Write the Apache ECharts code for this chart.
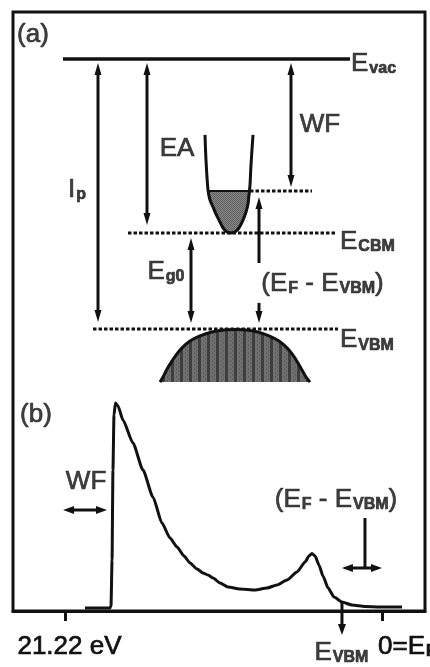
<!DOCTYPE html>
<html>
<head>
<meta charset="utf-8">
<script src="https://cdn.jsdelivr.net/npm/echarts@6/dist/echarts.min.js"></script>
<style>
  html, body { margin: 0; padding: 0; background: #fff; }
  #chart { width: 430px; height: 667px; }
</style>
</head>
<body>
<div id="chart"></div>
<script>
// ---------- (a) band diagram, energies in eV relative to the vacuum level ----------
const levelNames  = ['vac', 'F', 'CBM', 'VBM'];
const levelEnergy = [0, -4.4, -5.8, -9.0];
const levelFrom   = [50, 237, 115, 80];      // horizontal extent (arbitrary position units)
const levelTo     = [337, 299, 324, 325];

// conduction band dispersion
const cbPos = [192, 193, 195, 197, 200, 203, 206, 210, 214, 218, 222, 226, 230, 233, 235, 236, 237, 238, 240];
const cbE   = [-2.53, -3.37, -4.37, -4.70, -4.93, -5.17, -5.37, -5.63, -5.77, -5.80, -5.77, -5.63, -5.37, -5.10, -4.83, -4.53, -4.20, -3.53, -2.53];

// valence band (filled dome)
const vbPos = [147, 150, 153, 157, 163, 169, 177, 187, 199, 211, 222, 233, 245, 256, 266, 274, 280, 285, 289, 293, 297];
const vbE   = [-10.77, -10.60, -10.40, -10.17, -9.87, -9.63, -9.40, -9.23, -9.10, -9.03, -9.02, -9.03, -9.10, -9.23, -9.40, -9.63, -9.87, -10.13, -10.37, -10.60, -10.77];

// energy arrows: position, start energy, end energy
const arrowPosA  = [85, 134, 278, 178, 246, 246];
const arrowFromA = [-0.13, -0.13, -0.13, -5.97, -6.80, -8.13];
const arrowToA   = [-8.77, -5.53, -4.27, -8.80, -4.60, -8.80];
const arrowBothA = [true, true, true, true, false, false];

// ---------- (b) photoemission spectrum: binding energy (eV) vs intensity (arb. units) ----------
const spectrumBE  = [19.88, 18.21, 18.14, 18.07, 18.01, 17.94, 17.84, 17.67, 17.34, 16.67, 16.00, 15.33, 14.73,
                     14.19, 13.72, 13.25, 12.85, 12.38, 11.98, 11.65, 11.31, 10.84, 10.31, 9.51, 8.50, 7.70, 7.03,
                     6.36, 5.69, 5.15, 4.89, 4.69, 4.48, 4.22, 3.95, 3.61, 3.21, 2.68, 2.01, 1.14, 0.13, -1.34];
const spectrumInt = [1.5, 1.5, 2.5, 25.5, 70.5, 98, 104, 102.5, 95.5, 84, 70.5, 57, 44,
                     36.5, 32, 27.5, 24, 21, 19, 18, 16.5, 14, 12, 11, 10.5, 11.5, 13,
                     15.5, 19.5, 24.5, 27.5, 28.8, 27.5, 23, 17.5, 11.5, 7, 4.5, 3, 2.2, 2, 2];

const photonEnergy = 21.22;
const cutoffBE = 18.41;
const vbmBE = 2.68;
const fermiBE = 0;
const tickValues = [photonEnergy, fermiBE];

// arrows in (b): [BE, intensity] of start and end
const arrowFromB = [[21.35, 50.5], [vbmBE, 21.5], [1.14, 46.5], [vbmBE, 4]];
const arrowToB   = [[cutoffBE, 50.5], [fermiBE, 21.5], [1.14, 21.5], [vbmBE, -12]];
const arrowHeadsB = ['both', 'both', 'none', 'end'];

// ---------- styling ----------
const INK = '#111';
const FONT = 'Liberation Sans, Arial, sans-serif';
const rich = {
  m: { fontFamily: FONT, fontSize: 26, lineHeight: 26, color: INK },
  s: { fontFamily: FONT, fontSize: 16, fontWeight: 'bold', lineHeight: 16, padding: [10, 0, 0, 1], color: INK }
};
const sub = (main, s) => '{m|' + main + '}{s|' + s + '}';

function makePattern(w, h, paint) {
  const c = document.createElement('canvas');
  c.width = w; c.height = h;
  paint(c.getContext('2d'));
  return { image: c, repeat: 'repeat' };
}
// vertical striping for the valence band
const vbFill = makePattern(9, 4, ctx => {
  ctx.fillStyle = '#707070'; ctx.fillRect(0, 0, 9, 4);
  ctx.fillStyle = '#3e3e3e'; ctx.fillRect(0, 0, 3, 4);
  ctx.fillStyle = '#5a5a5a'; ctx.fillRect(5, 0, 1, 2); ctx.fillRect(7, 2, 1, 2);
});
// stippled grey for occupied conduction band states
const cbFill = makePattern(2, 2, ctx => {
  ctx.fillStyle = '#8a8a8a'; ctx.fillRect(0, 0, 2, 2);
  ctx.fillStyle = '#5e5e5e'; ctx.fillRect(0, 0, 1, 1); ctx.fillRect(1, 1, 1, 1);
});

// part of the conduction band lying below the Fermi level
function filledStates(xs, es, level) {
  const pts = [];
  for (let i = 0; i < xs.length; i++) {
    if (es[i] <= level) pts.push([xs[i], es[i]]);
    if (i < xs.length - 1 && (es[i] - level) * (es[i + 1] - level) < 0) {
      const t = (level - es[i]) / (es[i + 1] - es[i]);
      pts.push([xs[i] + t * (xs[i + 1] - xs[i]), level]);
    }
  }
  return pts;
}
const cbOccupied = filledStates(cbPos, cbE, levelEnergy[1]);

function arrowShape(api, a, b, heads, headW, headL) {
  const p1 = api.coord(a), p2 = api.coord(b);
  const dx = p2[0] - p1[0], dy = p2[1] - p1[1];
  const len = Math.hypot(dx, dy) || 1;
  const ux = dx / len, uy = dy / len, nx = -uy, ny = ux;
  const startHead = heads === 'both';
  const endHead = heads === 'both' || heads === 'end';
  const s = startHead ? [p1[0] + ux * headL * 0.7, p1[1] + uy * headL * 0.7] : p1;
  const e = endHead ? [p2[0] - ux * headL * 0.7, p2[1] - uy * headL * 0.7] : p2;
  const children = [{
    type: 'line', shape: { x1: s[0], y1: s[1], x2: e[0], y2: e[1] },
    style: { stroke: INK, lineWidth: 3 }
  }];
  const head = (tip, sx, sy) => ({
    type: 'polygon',
    shape: { points: [tip,
      [tip[0] + sx * headL + nx * headW / 2, tip[1] + sy * headL + ny * headW / 2],
      [tip[0] + sx * headL - nx * headW / 2, tip[1] + sy * headL - ny * headW / 2]] },
    style: { fill: INK }
  });
  if (startHead) children.push(head(p1, ux, uy));
  if (endHead) children.push(head(p2, -ux, -uy));
  return { type: 'group', children };
}

function labelItem(at, text, pos) {
  return {
    value: at,
    label: { show: true, position: pos || 'inside', distance: 0, formatter: text, rich,
             textBorderColor: INK, textBorderWidth: 0.7 }
  };
}

const labelsA = [
  labelItem([20, 0.80], '{m|(a)}'),
  labelItem([307, -2.20], '{m|WF}'),
  labelItem([164, -2.98], '{m|EA}'),
  labelItem([64, -4.35], sub('I', 'p')),
  labelItem([153, -7.08], sub('E', 'g0')),
  labelItem([309.5, -7.5], '{m|(E}{s|F}{m| - E}{s|VBM}{m|)}'),
  labelItem([338, levelEnergy[0] - 0.15], sub('E', levelNames[0]), 'right'),
  labelItem([327, levelEnergy[2] - 0.28], sub('E', levelNames[2]), 'right'),
  labelItem([327, levelEnergy[3] - 0.37], sub('E', levelNames[3]), 'right')
];
const labelsB = [
  labelItem([23.16, 98.25], '{m|(b)}'),
  labelItem([19.81, 64.5], '{m|WF}'),
  labelItem([3.08, 55.5], '{m|(E}{s|F}{m| - E}{s|VBM}{m|)}'),
  labelItem([vbmBE + 0.04, -20.75], sub('E', 'VBM'))
];

const levelSeries = levelEnergy.map((en, i) => ({
  type: 'line', xAxisIndex: 0, yAxisIndex: 0, z: 3, silent: true, symbol: 'none',
  data: [[levelFrom[i], en], [levelTo[i], en]],
  lineStyle: { color: INK, width: i === 0 ? 3.5 : 3, type: i === 0 ? 'solid' : [3.5, 2] }
}));

const chart = echarts.init(document.getElementById('chart'), null, { renderer: 'canvas' });
chart.setOption({
  animation: false,
  backgroundColor: '#fff',
  grid: [
    { left: 13, top: 12, right: 5, bottom: 56, containLabel: false, outerBoundsMode: 'none',
      show: true, borderColor: INK, borderWidth: 3, backgroundColor: 'transparent' },
    { left: 13, top: 391, right: 5, bottom: 56, containLabel: false, outerBoundsMode: 'none', show: false }
  ],
  xAxis: [
    { gridIndex: 0, type: 'value', min: 0, max: 412, show: false },
    { gridIndex: 1, type: 'value', inverse: true, min: -2.878, max: 24.70, position: 'bottom',
      axisLine: { show: true, onZero: false, lineStyle: { color: INK, width: 3 } },
      splitLine: { show: false },
      axisTick: { show: true, customValues: tickValues, inside: false, length: 10, lineStyle: { color: INK, width: 3 } },
      axisLabel: {
        show: true, customValues: tickValues, margin: 23, hideOverlap: false,
        formatter: v => Math.abs(v) < 1e-9 ? '{p0|}' + sub('0=E', 'F') : '{p1|}{m|' + photonEnergy + ' eV}',
        rich: Object.assign({ p0: { width: 50 }, p1: { width: 9 } }, rich),
        textBorderColor: INK, textBorderWidth: 0.7
      } }
  ],
  yAxis: [
    { gridIndex: 0, type: 'value', min: -18.4, max: 1.5667, show: false },
    { gridIndex: 1, type: 'value', min: 0, max: 110, show: false }
  ],
  series: [
    // valence band fill + outline
    {
      type: 'custom', xAxisIndex: 0, yAxisIndex: 0, z: 1, silent: true,
      data: [[vbPos[0], vbE[0]]],
      renderItem: (params, api) => ({
        type: 'polygon',
        shape: { points: vbPos.map((p, i) => api.coord([p, vbE[i]])) },
        style: { fill: vbFill }
      })
    },
    {
      type: 'line', xAxisIndex: 0, yAxisIndex: 0, z: 2, silent: true, symbol: 'none', smooth: 0.3,
      data: vbPos.map((p, i) => [p, vbE[i]]),
      lineStyle: { color: INK, width: 3 }
    },
    // occupied conduction band states
    {
      type: 'custom', xAxisIndex: 0, yAxisIndex: 0, z: 1, silent: true,
      data: [[cbPos[0], cbE[0]]],
      renderItem: (params, api) => ({
        type: 'polygon',
        shape: { points: cbOccupied.map(p => api.coord(p)) },
        style: { fill: cbFill, stroke: INK, lineWidth: 2 }
      })
    },
    {
      type: 'line', xAxisIndex: 0, yAxisIndex: 0, z: 2, silent: true, symbol: 'none', smooth: 0.3,
      data: cbPos.map((p, i) => [p, cbE[i]]),
      lineStyle: { color: INK, width: 3 }
    },
    ...levelSeries,
    // energy arrows in (a)
    {
      type: 'custom', xAxisIndex: 0, yAxisIndex: 0, z: 4, silent: true,
      data: arrowPosA.map((p, i) => [p, arrowFromA[i], p, arrowToA[i]]),
      encode: { x: [0, 2], y: [1, 3] },
      renderItem: (params, api) => {
        const i = params.dataIndex;
        return arrowShape(api, [api.value(0), api.value(1)], [api.value(2), api.value(3)],
          arrowBothA[i] ? 'both' : 'end', 7, 12);
      }
    },
    { type: 'scatter', xAxisIndex: 0, yAxisIndex: 0, z: 6, silent: true, symbolSize: 0, data: labelsA },

    // spectrum
    {
      type: 'line', xAxisIndex: 1, yAxisIndex: 1, z: 3, silent: true, symbol: 'none',
      smooth: 0.2, smoothMonotone: 'x', clip: false,
      data: spectrumBE.map((b, i) => [b, spectrumInt[i]]),
      lineStyle: { color: INK, width: 3 }
    },
    {
      type: 'custom', xAxisIndex: 1, yAxisIndex: 1, z: 4, silent: true, clip: false,
      data: arrowFromB.map((a, i) => [a[0], a[1], arrowToB[i][0], arrowToB[i][1]]),
      encode: { x: [0, 2], y: [1, 3] },
      renderItem: (params, api) => arrowShape(api, [api.value(0), api.value(1)], [api.value(2), api.value(3)],
        arrowHeadsB[params.dataIndex], 8, 11)
    },
    { type: 'scatter', xAxisIndex: 1, yAxisIndex: 1, z: 6, silent: true, symbolSize: 0, clip: false, data: labelsB }
  ]
});
</script>
</body>
</html>
